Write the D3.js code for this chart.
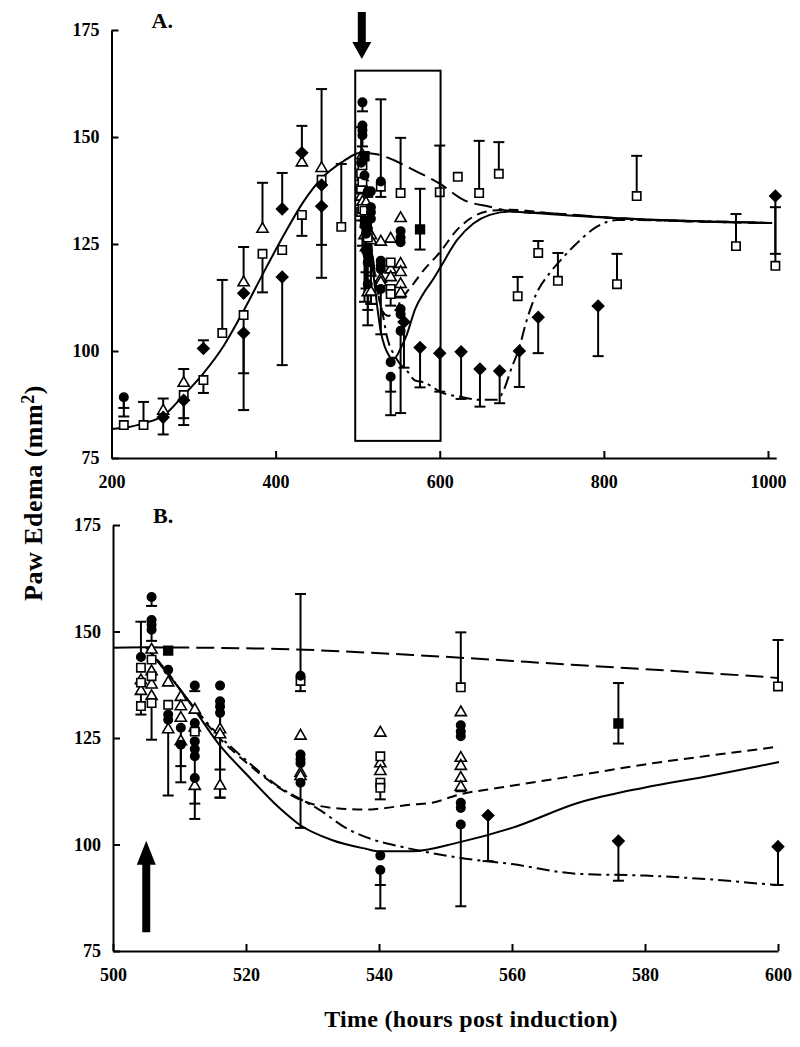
<!DOCTYPE html>
<html>
<head>
<meta charset="utf-8">
<script src="https://cdn.jsdelivr.net/npm/d3@7"></script>
<style>
  body { margin: 0; background: #fff; }
  svg { display: block; }
  .tick text { font-family: "Liberation Serif", "Times New Roman", serif; font-size: 18px; font-weight: bold; fill: #000; }
</style>
</head>
<body>
<div id="chart"></div>
<script>
// ---- fitted curves (time in hours, edema in mm2) ----
// shared rise before the dose at ~505 h
var baseT = [200, 220, 239, 264, 288, 312, 337, 361, 385, 410, 434, 458, 483, 495, 500, 505]
var baseV = [81.8, 82.2, 83.1, 85.0, 89.7, 94.8, 101.3, 109.4, 118.2, 127.1, 134.9, 140.7, 144.4, 145.8, 146.2, 146.3]

// branches after dosing
var longDashT = [505, 525, 545, 569, 600, 629, 661, 690, 734, 819, 1005]
var longDashV = [146.3, 145.9, 144.5, 142.2, 139.1, 135.3, 133.7, 132.6, 132.2, 131.0, 129.9]

var shortDashT = [505, 508, 511, 516, 520, 525, 528, 533, 538, 540, 545, 548, 552, 558, 569, 580, 600, 621, 641, 665, 686, 734, 819, 1005]
var shortDashV = [146.3, 140.8, 134.5, 125.0, 119.3, 113.3, 110.6, 108.6, 108.2, 108.4, 109.4, 109.8, 111.7, 113.3, 116.0, 118.8, 123.0, 128.3, 131.4, 132.8, 133.0, 132.2, 131.0, 129.9]

var solidT = [505, 508, 511, 516, 520, 525, 528, 533, 538, 540, 545, 552, 560, 570, 580, 590, 600, 621, 641, 661, 686, 710, 819, 1005]
var solidV = [146.3, 140.5, 134.5, 123.4, 116.6, 108.6, 104.7, 101.0, 99.0, 98.4, 98.4, 100.5, 103.9, 109.8, 113.4, 116.2, 119.3, 125.9, 129.8, 131.8, 132.6, 132.3, 131.0, 129.9]

var dashDotT = [505, 508, 511, 516, 520, 525, 528, 531, 535, 539, 543, 552, 560, 570, 580, 590, 600, 625, 649, 670, 678, 688, 696, 706, 718, 734, 751, 771, 791, 816, 1005]
var dashDotV = [146.3, 140.8, 134.5, 125.5, 119.8, 113.5, 110.8, 108.2, 103.9, 101.2, 99.6, 96.9, 95.4, 93.1, 92.7, 91.8, 90.5, 89.3, 88.6, 88.6, 90.9, 96.3, 100.2, 107.2, 113.5, 118.2, 122.0, 125.9, 129.0, 130.6, 129.9]

// ---- observations: [time, value, error bar end(s)...] ----
var openSquares = [
  [215, 82.7], [239, 82.7, 88.1], [288, 89.7, 84.3], [312, 93.2, 90.2], [335, 104.2, 116.6],
  [361, 108.4, 94.8], [384, 122.7, 113.7], [408, 123.6], [432, 131.8, 126.9], [456, 140.0, 124.8],
  [480, 129.0, 143.7],
  [504.2, 141.5], [504.2, 138.0], [504.2, 132.5],
  [505.8, 143.4], [505.8, 139.5], [505.8, 133.2, 124.6],
  [508.3, 132.8], [512.3, 126.5],
  [528.2, 138.4, 158.8],
  [540.2, 120.7], [540.2, 114.5], [540.2, 113.3, 110.6],
  [552.3, 136.9, 149.8], [600, 137.1, 148.0],
  [622, 140.7], [648, 136.9, 149.1], [672, 141.4, 148.8], [695, 112.8, 117.3], [720, 122.9, 125.7],
  [744, 116.4, 122.9], [816, 115.6, 122.7], [840, 136.2, 145.6], [961, 124.5, 132.0], [1009, 119.9, 133.6]
]

var filledSquares = [
  [508.3, 145.5], [576, 128.4, 137.9, 123.7]
]

var openTriangles = [
  [263, 86.0], [288, 92.5, 95.8], [361, 116.0, 124.3], [384, 128.5, 139.3], [432, 144.0], [456, 142.7, 161.2],
  [504.2, 138.5, 130.5], [504.2, 136.0],
  [505.8, 145.7], [505.8, 140.6], [505.8, 137.5], [505.8, 134.8],
  [508.3, 138.0], [508.3, 127.0],
  [510.2, 134.6], [510.2, 132.4], [510.2, 129.7], [510.2, 124.2],
  [512.3, 131.6], [512.3, 127.4], [512.3, 113.7],
  [516.1, 127.0], [516.1, 125.8], [516.1, 113.8, 111.0],
  [528.2, 125.5], [528.2, 116.8], [528.2, 116.0],
  [540.2, 126.2], [540.2, 119.0], [540.2, 117.2],
  [552.3, 131.0], [552.3, 120.3], [552.3, 118.4], [552.3, 115.6], [552.3, 113.5, 112.5]
]

var filledCircles = [
  [215, 89.2, 84.7, 86.7],
  [504.2, 144.0, 152.3],
  [505.8, 158.1, 156.0], [505.8, 152.7], [505.8, 151.6], [505.8, 150.4, 147.8],
  [508.3, 141.0], [508.3, 130.5], [508.3, 129.3, 111.5],
  [510.2, 127.4, 118.4], [510.2, 123.4, 114.6],
  [512.3, 137.3, 136.0], [512.3, 128.5], [512.3, 124.2], [512.3, 122.4], [512.3, 120.7, 109.6], [512.3, 115.6, 106.0],
  [516.1, 137.3], [516.1, 133.6], [516.1, 132.4, 117.6], [516.1, 130.9, 111.0],
  [528.2, 139.6, 136.0], [528.2, 121.1], [528.2, 120.0], [528.2, 119.1], [528.2, 114.5, 103.9],
  [540.2, 97.4], [540.2, 94.0, 85.0, 90.5],
  [552.3, 128.0], [552.3, 126.5], [552.3, 125.4], [552.3, 109.8], [552.3, 108.6], [552.3, 104.7, 85.5]
]

var filledDiamonds = [
  [263, 84.5, 88.9, 80.5], [288, 88.5, 82.7], [312, 100.6, 102.5], [361, 113.5], [361, 104.2, 86.2],
  [408, 133.2, 141.6], [408, 117.3, 96.7], [432, 146.3, 152.6], [456, 138.8], [456, 133.8, 117.1],
  [556.4, 106.8, 96.1], [576, 100.8, 91.5], [600, 99.5, 90.5],
  [626, 99.8, 88.8], [649, 95.8, 87.0], [673, 95.3, 87.8], [697, 100.0, 91.6], [720, 107.9, 99.5],
  [793, 110.5, 98.8], [1009, 136.2, 122.7]
]

// axis ticks
var yTicks = [75, 100, 125, 150, 175]
var xTicksA = [200, 400, 600, 800, 1000]
var xTicksB = [500, 520, 540, 560, 580, 600]

// zoom box in panel A and dosing time
var boxT = [497, 601]
var boxV = [79, 165.5]
var doseT = 505


var svg = d3.select("#chart")
  .append("svg")
  .attr("width", 800)
  .attr("height", 1047)

var curves = [
  {t: baseT, v: baseV, dash: null},
  {t: longDashT, v: longDashV, dash: "18,7"},
  {t: shortDashT, v: shortDashV, dash: "10,6"},
  {t: solidT, v: solidV, dash: null},
  {t: dashDotT, v: dashDotV, dash: "13,5,3,5"}
]

var markers = [
  {data: openTriangles, shape: d3.symbol().type(d3.symbolTriangle).size(54)(), fill: "#fff", rot: 0},
  {data: openSquares, shape: d3.symbol().type(d3.symbolSquare).size(70)(), fill: "#fff", rot: 0},
  {data: filledCircles, shape: d3.symbol().type(d3.symbolCircle).size(56)(), fill: "#000", rot: 0},
  {data: filledSquares, shape: d3.symbol().type(d3.symbolSquare).size(76)(), fill: "#000", rot: 0},
  {data: filledDiamonds, shape: d3.symbol().type(d3.symbolSquare).size(64)(), fill: "#000", rot: 45}
]

function drawPanel(p) {
  var x = d3.scaleLinear().domain(p.xDomain).range(p.xRange)
  var y = d3.scaleLinear().domain([75, 175]).range(p.yRange)
  var g = svg.append("g")

  //clip for curves
  g.append("clipPath").attr("id", p.id + "clip")
    .append("rect")
    .attr("x", p.xRange[0]).attr("y", 0)
    .attr("width", p.xRange[1] - p.xRange[0] + 1).attr("height", 1047)

  //axes
  var yAxis = d3.axisLeft(y).tickValues(yTicks).tickSizeInner(-7).tickSizeOuter(0).tickPadding(12)
  var xAxis = d3.axisBottom(x).tickValues(p.xTicks).tickFormat(d3.format("d"))
    .tickSizeInner(-7).tickSizeOuter(0).tickPadding(17)

  g.append("g")
    .attr("transform", `translate(${p.xRange[0]},0)`)
    .call(yAxis)
  g.append("g")
    .attr("transform", `translate(0,${p.yRange[0]})`)
    .call(xAxis)
  g.selectAll(".domain, .tick line").attr("stroke", "#000").attr("stroke-width", 2)

  //curves
  var line = d3.line()
    .x(d => x(d[0]))
    .y(d => y(d[1]))
    .curve(d3.curveMonotoneX)

  g.append("g")
    .attr("clip-path", `url(#${p.id}clip)`)
    .selectAll("path")
    .data(curves)
    .enter()
    .append("path")
    .attr("d", c => line(c.t.map((t, i) => [t, c.v[i]])))
    .attr("fill", "none")
    .attr("stroke", "#000")
    .attr("stroke-width", 2)
    .attr("stroke-dasharray", c => c.dash)

  //error bars
  var bars = []
  markers.forEach(m => {
    m.data.forEach(d => {
      if (d[0] < p.xDomain[0] || d[0] > p.xDomain[1]) return
      d.slice(2).forEach(e => bars.push([d[0], d[1], e]))
    })
  })
  var bg = g.append("g").attr("stroke", "#000").attr("stroke-width", 2)
  bg.selectAll("line.bar")
    .data(bars)
    .enter()
    .append("line")
    .attr("x1", d => x(d[0])).attr("x2", d => x(d[0]))
    .attr("y1", d => y(d[1])).attr("y2", d => y(d[2]))
  bg.selectAll("line.cap")
    .data(bars)
    .enter()
    .append("line")
    .attr("x1", d => x(d[0]) - 5.5).attr("x2", d => x(d[0]) + 5.5)
    .attr("y1", d => y(d[2])).attr("y2", d => y(d[2]))

  //markers
  markers.forEach(m => {
    g.append("g")
      .selectAll("path")
      .data(m.data.filter(d => d[0] >= p.xDomain[0] && d[0] <= p.xDomain[1]))
      .enter()
      .append("path")
      .attr("d", m.shape)
      .attr("transform", d => `translate(${x(d[0])},${y(d[1])}) rotate(${m.rot})`)
      .attr("fill", m.fill)
      .attr("stroke", "#000")
      .attr("stroke-width", 1.6)
  })

  //panel letter
  g.append("text")
    .attr("x", p.xRange[0] + 40)
    .attr("y", p.yRange[1] - 2)
    .attr("font-family", "Liberation Serif, serif")
    .attr("font-weight", "bold")
    .attr("font-size", "22px")
    .text(p.label)

  return {x: x, y: y, g: g}
}

var A = drawPanel({id: "A", label: "A.", xDomain: [200, 1010], xRange: [111.5, 776.2], yRange: [458, 30], xTicks: xTicksA})
var B = drawPanel({id: "B", label: "B.", xDomain: [500, 600], xRange: [113, 778], yRange: [951, 525], xTicks: xTicksB})

//zoom box in A
A.g.append("rect")
  .attr("x", A.x(boxT[0]))
  .attr("y", A.y(boxV[1]))
  .attr("width", A.x(boxT[1]) - A.x(boxT[0]))
  .attr("height", A.y(boxV[0]) - A.y(boxV[1]))
  .attr("fill", "none")
  .attr("stroke", "#000")
  .attr("stroke-width", 2)

//dose arrows
function arrow(g, cx, yTail, yTip, headLen) {
  var dir = yTip > yTail ? 1 : -1
  var yHead = yTip - dir * headLen
  var pts = [
    [cx - 4, yTail], [cx + 4, yTail], [cx + 4, yHead], [cx + 9.5, yHead],
    [cx, yTip], [cx - 9.5, yHead], [cx - 4, yHead]
  ]
  g.append("path").attr("d", d3.line()(pts) + "Z").attr("fill", "#000")
}
arrow(A.g, A.x(doseT), A.y(179.2), A.y(168.2), 17)
arrow(B.g, B.x(doseT), B.y(79.4), B.y(100.9), 24)

//axis titles
svg.append("text")
  .attr("transform", "translate(42,601) rotate(-90)")
  .attr("font-family", "Liberation Serif, serif")
  .attr("font-weight", "bold")
  .attr("font-size", "26px")
  .attr("letter-spacing", "0.5px")
  .call(t => {
    t.append("tspan").text("Paw Edema (mm")
    t.append("tspan").attr("dy", "-0.45em").attr("font-size", "18px").text("2")
    t.append("tspan").attr("dy", "0.3em").text(")")
  })

svg.append("text")
  .attr("x", 471)
  .attr("y", 1027)
  .attr("text-anchor", "middle")
  .attr("font-family", "Liberation Serif, serif")
  .attr("font-weight", "bold")
  .attr("font-size", "24px")
  .attr("letter-spacing", "0.3px")
  .text("Time (hours post induction)")
</script>
</body>
</html>
